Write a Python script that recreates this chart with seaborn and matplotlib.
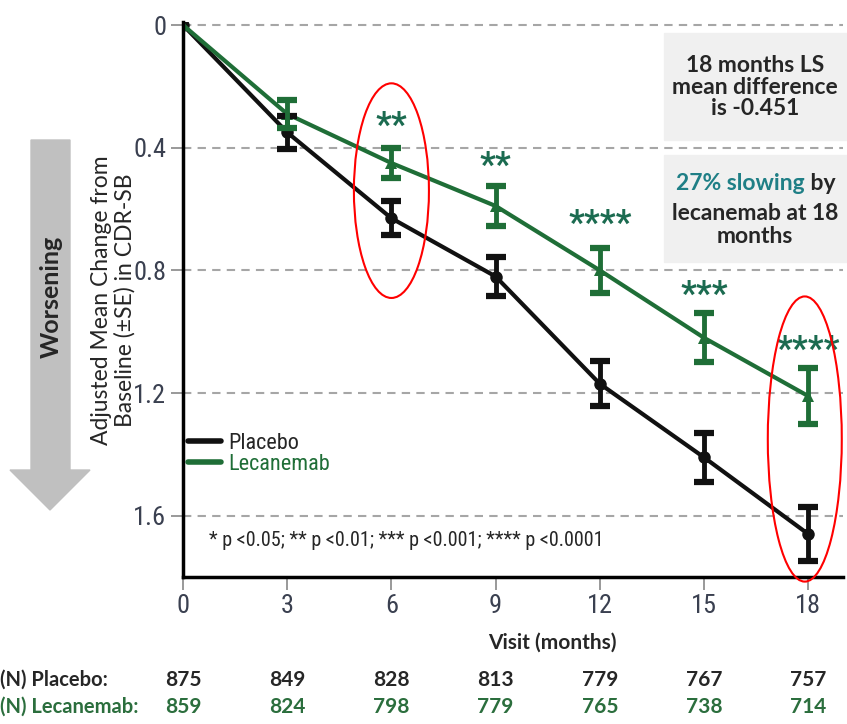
import numpy as np
import pandas as pd
import matplotlib
matplotlib.use('Agg')
import matplotlib.pyplot as plt
import matplotlib.transforms as mtransforms
from matplotlib import font_manager
from matplotlib.patches import Ellipse, Polygon, Rectangle
from matplotlib.lines import Line2D
import seaborn as sns

# data
months = [0, 3, 6, 9, 12, 15, 18]
placebo_mean = [0, 0.35, 0.63, 0.82, 1.17, 1.41, 1.66]
placebo_se = [0, 0.055, 0.055, 0.062, 0.073, 0.08, 0.088]
lecanemab_mean = [0, 0.29, 0.45, 0.59, 0.80, 1.02, 1.21]
lecanemab_se = [0, 0.045, 0.05, 0.065, 0.073, 0.08, 0.09]

n_placebo = [875, 849, 828, 813, 779, 767, 757]
n_lecanemab = [859, 824, 798, 779, 765, 738, 714]

star_months = [6, 9, 12, 15, 18]
star_labels = ['**', '**', '****', '***', '****']
star_y = [0.29, 0.42, 0.61, 0.84, 1.02]

y_ticks = [0, 0.4, 0.8, 1.2, 1.6]
y_tick_labels = ['0', '0.4', '0.8', '1.2', '1.6']

BLACK = '#111111'
GREEN = '#1f6e37'
STAR = '#1b6b50'
TEAL = '#1f7f86'
NGREEN = '#2b6e3d'

W, H = 847, 724


def fx(x):
    return x / W


def fy(y):
    return 1 - y / H


sns.set_theme(style='white')
installed = {f.name for f in font_manager.fontManager.ttflist}
narrow_name = 'Roboto'
for cand in ['Liberation Sans Narrow', 'Roboto Condensed', 'Open Sans Condensed']:
    if cand in installed:
        narrow_name = cand
        break
NARROW = [narrow_name, 'DejaVu Sans']
CAL = ['Lato', 'DejaVu Sans']
plt.rcParams['font.family'] = CAL

fig = plt.figure(figsize=(W / 100, H / 100), dpi=100)
ax = fig.add_axes([fx(183), fy(577), fx(843) - fx(183), fy(22) - fy(577)])
ax.set_facecolor('none')

# grey boxes on the right
fig.patches.append(Rectangle((fx(664), fy(140)), fx(847) - fx(664), fy(33) - fy(140),
                             transform=fig.transFigure, color='#f0f0f0', zorder=0))
fig.patches.append(Rectangle((fx(664), fy(262)), fx(847) - fx(664), fy(155) - fy(262),
                             transform=fig.transFigure, color='#f0f0f0', zorder=0))

# "Worsening" arrow
arrow_px = [(31, 140), (70, 140), (70, 470), (90, 470), (50, 510), (10, 470), (31, 470)]
fig.patches.append(Polygon([(fx(x), fy(y)) for x, y in arrow_px], closed=True,
                           transform=fig.transFigure, color='#c0c0c0', zorder=0))
fig.text(fx(51), fy(297), 'Worsening', rotation=90, weight='bold', size=18,
         ha='center', va='center')

df = pd.DataFrame({
    'month': months * 2,
    'change': placebo_mean + lecanemab_mean,
    'group': ['Placebo'] * len(months) + ['Lecanemab'] * len(months),
})
sns.lineplot(data=df, x='month', y='change', hue='group', style='group',
             hue_order=['Placebo', 'Lecanemab'],
             palette={'Placebo': BLACK, 'Lecanemab': GREEN},
             markers={'Placebo': 'o', 'Lecanemab': '^'}, dashes=False,
             markersize=9, markeredgewidth=0, linewidth=3, legend=False, ax=ax)

ax.errorbar(months[1:], placebo_mean[1:], yerr=placebo_se[1:], fmt='none',
            ecolor=BLACK, elinewidth=3.5, capsize=7, capthick=4.5, zorder=3)
ax.errorbar(months[1:], lecanemab_mean[1:], yerr=lecanemab_se[1:], fmt='none',
            ecolor=GREEN, elinewidth=3.5, capsize=7, capthick=4.5, zorder=3)

for m, s, y in zip(star_months, star_labels, star_y):
    ax.text(m, y + 0.04, s, color=STAR, ha='center', va='center', size=25,
            weight='bold', family=NARROW)

ax.add_patch(Ellipse((6, 0.54), 2.16, 0.70, fill=False, ec='red', lw=1.5,
                     clip_on=False, zorder=5))
ax.add_patch(Ellipse((17.9, 1.35), 2.13, 0.93, fill=False, ec='red', lw=1.5,
                     clip_on=False, zorder=5))

ax.set_xlim(0, 19)
ax.set_ylim(1.80, -0.01)
ax.set_xticks(months)
ax.set_xticklabels([str(m) for m in months])
ax.set_yticks(y_ticks)
ax.set_yticklabels(y_tick_labels)
ax.set_xlabel('')
ax.set_ylabel('')
ax.grid(False)
ax.grid(True, axis='y', linestyle=(0, (4, 3)), color='#a6a6a6', lw=1.5)
ax.set_axisbelow(True)
sns.despine(ax=ax)
for side in ['left', 'bottom']:
    ax.spines[side].set_color('black')
    ax.spines[side].set_linewidth(2.5)
ax.tick_params(axis='both', direction='out', length=9, width=1.2, color='#888888',
               labelcolor='#3a4050', labelsize=19, pad=3, left=True, bottom=True)
for lab in ax.get_xticklabels() + ax.get_yticklabels():
    lab.set_family(NARROW)

handles = [Line2D([], [], color=BLACK, lw=4), Line2D([], [], color=GREEN, lw=4)]
leg = ax.legend(handles, ['Placebo', 'Lecanemab'], loc='upper left',
                bbox_to_anchor=(fx(188), fy(433)), bbox_transform=fig.transFigure,
                frameon=False, prop={'family': NARROW, 'size': 16},
                handlelength=1.5, handletextpad=0.3, labelspacing=0.0,
                borderpad=0, borderaxespad=0)
leg.get_texts()[1].set_color(GREEN)

fig.text(fx(406), fy(540), '* p <0.05; ** p <0.01; *** p <0.001; **** p <0.0001',
         ha='center', va='center', family=NARROW, size=14.5)

fig.text(fx(113), fy(300), 'Adjusted Mean Change from\nBaseline (\u00b1SE) in CDR-SB',
         rotation=90, ha='center', va='center', size=16.5, linespacing=1.1)

# boxed notes
fig.text(fx(755), fy(87), '18 months LS\nmean difference\nis -0.451', ha='center',
         va='center', weight='bold', size=16.5, linespacing=1.05)
t1 = fig.text(fx(676), fy(183), '27% slowing', color=TEAL, weight='bold', size=16.5,
              ha='left', va='center')
fig.canvas.draw()
bb = t1.get_window_extent()
fig.text(bb.x1 / fig.bbox.width, fy(183), ' by', ha='left', va='center',
         weight='bold', size=16.5)
fig.text(fx(755), fy(225), 'lecanemab at 18\nmonths', ha='center', va='center',
         weight='bold', size=16.5, linespacing=1.1)

# axis title and numbers at risk
fig.text(fx(552), fy(643), 'Visit (months)', ha='center', va='center',
         weight='bold', size=15)
trans = mtransforms.blended_transform_factory(ax.transData, fig.transFigure)
fig.text(0, fy(680), '(N) Placebo:', ha='left', va='center', weight='bold', size=14.5)
fig.text(0, fy(707), '(N) Lecanemab:', ha='left', va='center', weight='bold',
         size=14.5, color=NGREEN)
for m, a, b in zip(months, n_placebo, n_lecanemab):
    ax.text(m, fy(680), str(a), transform=trans, ha='center', va='center',
            weight='bold', size=15, clip_on=False)
    ax.text(m, fy(707), str(b), transform=trans, ha='center', va='center',
            weight='bold', size=15, color=NGREEN, clip_on=False)

fig.savefig('out.png', dpi=100)
